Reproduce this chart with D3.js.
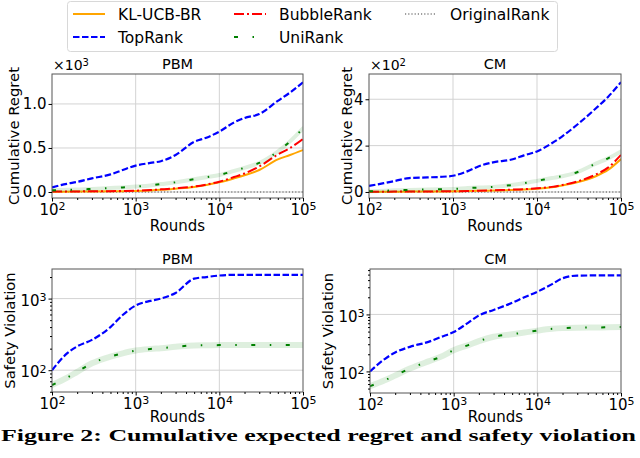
<!DOCTYPE html>
<html lang="en">
<head>
<meta charset="utf-8">
<title>Cumulative regret and safety violation</title>
<script src="https://d3js.org/d3.v7.min.js"></script>
<style>
  body { margin: 0; background: #fff; }
  text { font-family: "DejaVu Sans", sans-serif; fill: #000; }
</style>
</head>
<body>
<svg id="chart" width="640" height="458"></svg>
<script>
// x values (rounds) shared by every panel
var rounds = [100, 150, 200, 300, 500, 700, 1000, 1500, 2000, 3000, 5000, 7000,
              10000, 15000, 20000, 30000, 50000, 70000, 100000];

// cumulative regret, PBM
var pbmKl     = [3, 4, 5, 6, 8, 10, 12, 18, 25, 38, 58, 80, 110, 155, 190, 250, 370, 420, 477];
var pbmTop    = [53, 93, 115, 155, 200, 250, 300, 330, 350, 420, 570, 617, 686, 790, 840, 885, 1035, 1130, 1246];
var pbmBubble = [5, 6, 7, 8, 10, 12, 15, 22, 30, 42, 62, 85, 117, 170, 210, 290, 425, 500, 602];
var pbmUni    = [20, 25, 28, 35, 45, 52, 62, 75, 90, 110, 145, 168, 193, 240, 275, 330, 460, 575, 723];
var pbmOrig   = [0, 0, 0, 0, 0, 0, 0, 0, 0, 0, 0, 0, 0, 0, 0, 0, 0, 0, 0];

// cumulative regret, CM
var cmKl     = [1, 1, 1, 2, 2, 2, 3, 4, 5, 6, 9, 11, 14, 20, 28, 42, 68, 95, 142];
var cmTop    = [26, 38, 47, 60, 63, 65, 70, 90, 110, 128, 140, 158, 175, 210, 240, 290, 360, 410, 474];
var cmBubble = [1, 1, 2, 2, 2, 3, 3, 4, 5, 7, 10, 12, 16, 22, 30, 45, 75, 105, 160];
var cmUni    = [3, 5, 7, 9, 11, 12, 13, 17, 19, 22, 30, 38, 48, 60, 68, 85, 122, 145, 175];
var cmOrig   = [0, 0, 0, 0, 0, 0, 0, 0, 0, 0, 0, 0, 0, 0, 0, 0, 0, 0, 0];

// safety violation
var pbmSafeTop = [100, 170, 215, 265, 400, 590, 800, 930, 1000, 1200, 1900, 2000, 2100, 2150, 2150, 2150, 2150, 2150, 2150];
var pbmSafeUni = [62, 78, 95, 125, 155, 172, 188, 198, 203, 212, 222, 223, 224, 224, 224, 224, 224, 224, 224];
var cmSafeTop  = [100, 165, 215, 270, 330, 400, 490, 720, 960, 1200, 1600, 2000, 2500, 3400, 4300, 4800, 4830, 4830, 4830];
var cmSafeUni  = [55, 70, 85, 112, 150, 180, 235, 290, 340, 405, 450, 480, 520, 560, 575, 585, 590, 595, 600];

var xTicks = [100, 1000, 10000, 100000];

var styles = {
  kl:     {color: "#ffa500", dash: null,          width: 2},
  top:    {color: "#0000ff", dash: "6.5,2.5",     width: 2.2},
  bubble: {color: "#ff0000", dash: "10,3,2,3",    width: 2},
  uni:    {color: "#008000", dash: "4,14.5,1.5,14.5", width: 2},
  orig:   {color: "#808080", dash: "1.2,2",       width: 1.5}
};

var svg = d3.select("#chart");

var panels = [
  {title: "PBM", ylabel: "Cumulative Regret", left: 52, right: 303, top: 74, bottom: 198, labelGap: 33,
   log: false, ydom: [-68, 1340], yticks: [0, 500, 1000], scale: 1000, fmt: d3.format(".1f"), mult: "3",
   labelX: 14, series: [["orig", pbmOrig], ["kl", pbmKl], ["bubble", pbmBubble], ["uni", pbmUni], ["top", pbmTop]]},
  {title: "CM", ylabel: "Cumulative Regret", left: 369, right: 621, top: 74, bottom: 198, labelGap: 33,
   log: false, ydom: [-26, 509], yticks: [0, 200, 400], scale: 100, fmt: d3.format("d"), mult: "2",
   labelX: 347, series: [["orig", cmOrig], ["kl", cmKl], ["bubble", cmBubble], ["uni", cmUni], ["top", cmTop]]},
  {title: "PBM", ylabel: "Safety Violation", left: 52, right: 303, top: 269, bottom: 392, labelGap: 30,
   log: true, ydom: [49.6, 2590], yticks: [100, 1000],
   labelX: 10, series: [["uni", pbmSafeUni], ["top", pbmSafeTop]]},
  {title: "CM", ylabel: "Safety Violation", left: 370, right: 621, top: 269, bottom: 393, labelGap: 29,
   log: true, ydom: [41.8, 6270], yticks: [100, 1000],
   labelX: 328, series: [["uni", cmSafeUni], ["top", cmSafeTop]]}
];

// writes "10" with a raised exponent into a text node
function powerLabel(sel, d) {
  var e = Math.round(Math.log10(d));
  sel.text(null);
  sel.append("tspan").text("10");
  sel.append("tspan").attr("dy", "-0.45em").style("font-size", "11px").text(e);
}

function minorTicks(lo, hi) {
  var out = [];
  for (var p = Math.floor(Math.log10(lo)); p <= Math.ceil(Math.log10(hi)); p++) {
    for (var m = 2; m <= 9; m++) {
      var v = m * Math.pow(10, p);
      if (v > lo && v < hi) out.push(v);
    }
  }
  return out;
}

panels.forEach(function(p) {
  var x = d3.scaleLog().domain([100, 100000]).range([p.left, p.right]);
  var y = (p.log ? d3.scaleLog() : d3.scaleLinear()).domain(p.ydom).range([p.bottom, p.top]);
  var g = svg.append("g");

  // grid
  g.selectAll(".gx").data(xTicks.slice(1, 3)).enter().append("line")
    .attr("x1", function(d) { return x(d); }).attr("x2", function(d) { return x(d); })
    .attr("y1", p.top).attr("y2", p.bottom)
    .attr("stroke", "#d3d3d3").attr("stroke-width", 1);
  g.selectAll(".gy").data(p.yticks).enter().append("line")
    .attr("x1", p.left).attr("x2", p.right)
    .attr("y1", function(d) { return y(d); }).attr("y2", function(d) { return y(d); })
    .attr("stroke", "#d3d3d3").attr("stroke-width", 1);

  var clipId = "clip" + p.left + "_" + p.top;
  g.append("clipPath").attr("id", clipId).append("rect")
    .attr("x", p.left).attr("y", p.top).attr("width", p.right - p.left).attr("height", p.bottom - p.top);

  var line = d3.line()
    .x(function(d) { return x(d[0]); })
    .y(function(d) { return y(d[1]); })
    .curve(d3.curveMonotoneX);

  var lines = g.append("g").attr("clip-path", "url(#" + clipId + ")");
  p.series.forEach(function(s) {
    var st = styles[s[0]];
    var pts = rounds.map(function(r, i) { return [r, s[1][i]]; });
    if (s[0] === "uni") {
      // confidence band
      lines.append("path").attr("d", line(pts)).attr("fill", "none")
        .attr("stroke", "#008000").attr("stroke-opacity", 0.13)
        .attr("stroke-width", p.log ? 6 : 4).attr("stroke-linecap", "round");
    }
    lines.append("path").attr("d", line(pts)).attr("fill", "none")
      .attr("stroke", st.color).attr("stroke-width", st.width)
      .attr("stroke-dasharray", st.dash);
  });

  // frame
  g.append("rect").attr("x", p.left).attr("y", p.top)
    .attr("width", p.right - p.left).attr("height", p.bottom - p.top)
    .attr("fill", "none").attr("stroke", "#555").attr("stroke-width", 1);

  // x axis
  var xa = g.append("g").attr("transform", "translate(0," + p.bottom + ")")
    .call(d3.axisBottom(x).tickValues(xTicks).tickSize(3.5).tickPadding(3));
  xa.select(".domain").remove();
  xa.selectAll("text").style("font-size", "15px")
    .each(function(d) { powerLabel(d3.select(this), d); });
  var xm = g.append("g").attr("transform", "translate(0," + p.bottom + ")")
    .call(d3.axisBottom(x).tickValues(minorTicks(100, 100000)).tickSize(2).tickFormat(""));
  xm.select(".domain").remove();

  // y axis
  var ya = g.append("g").attr("transform", "translate(" + p.left + ",0)")
    .call(d3.axisLeft(y).tickValues(p.yticks).tickSize(3.5).tickPadding(2));
  ya.select(".domain").remove();
  ya.selectAll("text").style("font-size", "15px");
  if (p.log) {
    ya.selectAll("text").attr("dy", "0.45em")
      .each(function(d) { powerLabel(d3.select(this), d); });
    var ym = g.append("g").attr("transform", "translate(" + p.left + ",0)")
      .call(d3.axisLeft(y).tickValues(minorTicks(p.ydom[0], p.ydom[1])).tickSize(2).tickFormat(""));
    ym.select(".domain").remove();
  } else {
    ya.selectAll("text").text(function(d) { return p.fmt(d / p.scale); });
    var mt = g.append("text").attr("x", p.left + 1).attr("y", p.top - 4).style("font-size", "14px");
    mt.append("tspan").text("\u00d710");
    mt.append("tspan").attr("dy", "-0.45em").style("font-size", "10px").text(p.mult);
  }

  // titles and labels
  g.append("text").attr("x", (p.left + p.right) / 2).attr("y", p.top - 5)
    .attr("text-anchor", "middle").style("font-size", "14.5px").text(p.title);
  g.append("text").attr("x", (p.left + p.right) / 2).attr("y", p.bottom + p.labelGap)
    .attr("text-anchor", "middle").style("font-size", "15px").text("Rounds");
  g.append("text")
    .attr("transform", "translate(" + p.labelX + "," + ((p.top + p.bottom) / 2) + ") rotate(-90)")
    .attr("text-anchor", "middle").attr("dy", "0.35em").style("font-size", "14.8px").text(p.ylabel);
});

// legend
var legendItems = [
  {key: "kl", name: "KL-UCB-BR", col: 0, row: 0},
  {key: "top", name: "TopRank", col: 0, row: 1},
  {key: "bubble", name: "BubbleRank", col: 1, row: 0},
  {key: "uni", name: "UniRank", col: 1, row: 1},
  {key: "orig", name: "OriginalRank", col: 2, row: 0}
];
var colX = [73, 234, 405];
var rowY = [14, 37];
var lg = svg.append("g");
lg.append("rect").attr("x", 67.5).attr("y", 1.5).attr("width", 490).attr("height", 50)
  .attr("rx", 3).attr("fill", "#fff").attr("stroke", "#d8d8d8");
legendItems.forEach(function(it) {
  var st = styles[it.key];
  var lx = colX[it.col], ly = rowY[it.row];
  lg.append("line").attr("x1", lx).attr("x2", lx + 32).attr("y1", ly).attr("y2", ly)
    .attr("stroke", st.color).attr("stroke-width", st.width).attr("stroke-dasharray", st.dash);
  lg.append("text").attr("x", lx + 45).attr("y", ly).attr("dy", "0.36em")
    .style("font-size", "15.5px").text(it.name);
});

// caption
svg.append("text").attr("x", 1).attr("y", 441)
  .attr("textLength", 635).attr("lengthAdjust", "spacingAndGlyphs")
  .style("font-family", "'Liberation Serif', serif").style("font-weight", "bold").style("font-size", "17.5px")
  .text("Figure 2: Cumulative expected regret and safety violation");
</script>
</body>
</html>
